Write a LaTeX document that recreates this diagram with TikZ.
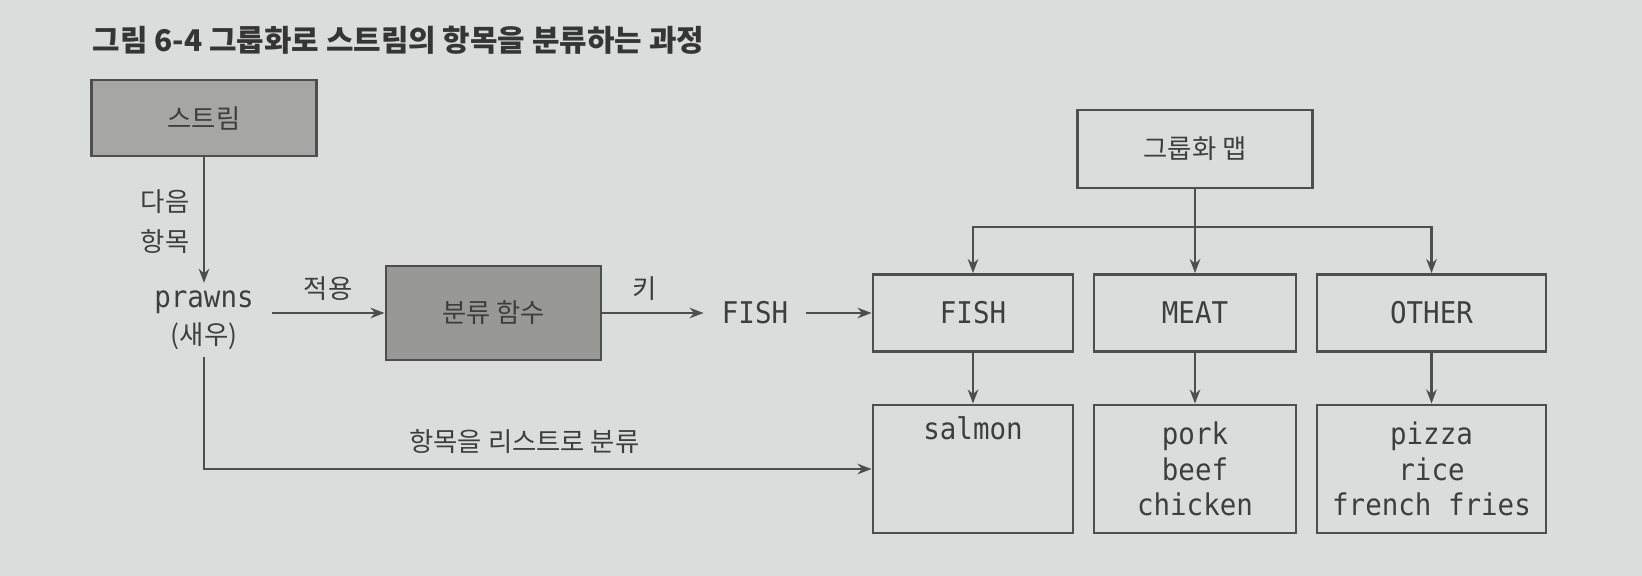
\documentclass[tikz,border=0pt]{standalone}
\usepackage{fontspec}
\newfontfamily\krfont{Noto Sans CJK KR}
\newfontfamily\codefont[FakeStretch=0.92]{DejaVu Sans Mono}
\usetikzlibrary{arrows.meta}
\definecolor{paper}{RGB}{219,221,220}
\definecolor{ink}{RGB}{62,62,62}
\definecolor{edge}{RGB}{78,78,78}
\definecolor{streamfill}{RGB}{166,166,164}
\definecolor{funcfill}{RGB}{152,152,151}

\begin{document}
\begin{tikzpicture}[x=0.01cm, y=-0.01cm, >={Stealth[length=4pt,width=3pt]},
  box/.style={draw=edge, line width=0.8pt, inner sep=0pt, text=ink},
  kr/.style={font=\krfont\fontsize{7.5}{11.4}\selectfont, text=ink, inner sep=0pt},
  code/.style={font=\codefont\fontsize{8.5}{10}\selectfont, text=ink, inner sep=5pt, align=center},
  link/.style={->, draw=edge, line width=0.8pt}]
\fill[paper] (0,0) rectangle (1642,576);
\useasboundingbox (0,0) rectangle (1642,576);

\node[anchor=west, inner sep=0pt, text=ink!85!black, font=\krfont\bfseries\fontsize{8.5}{10}\selectfont] (title) at (92,40) {그림 6-4 그룹화로 스트림의 항목을 분류하는 과정};

\node[box, kr, fill=streamfill, minimum width=2.25cm, minimum height=0.76cm] (stream) at (204,118) {스트림};
\node[kr, align=center] (nextlbl) at (165,222) {다음\\항목};
\node[code, inner ysep=2pt, font=\codefont\fontsize{8.5}{10.5}\selectfont] (prawns) at (204,320) {prawns\\{\krfont\fontsize{7.5}{10.5}\selectfont (새우)}};
\node[box, kr, fill=funcfill, minimum width=2.15cm, minimum height=0.94cm] (classify) at (493.5,313) {분류 함수};
\node[code] (fishkey) at (755,313) {FISH};

\node[box, kr, minimum width=2.35cm, minimum height=0.78cm] (groupmap) at (1195,149) {그룹화 맵};
\coordinate (fork) at (1195,227);
\node[box, code, inner sep=0pt, minimum width=2.0cm, minimum height=0.77cm] (fish) at (973,313) {FISH};
\node[box, code, inner sep=0pt, minimum width=2.02cm, minimum height=0.77cm] (meat) at (1195,313) {MEAT};
\node[box, code, inner sep=0pt, minimum width=2.29cm, minimum height=0.77cm] (other) at (1431.5,313) {OTHER};
\node[box, code, inner sep=0pt, minimum width=2.0cm, minimum height=1.28cm] (fishlist) at (973,469) {salmon\\\strut\\\strut};
\node[box, code, inner sep=0pt, minimum width=2.02cm, minimum height=1.28cm] (meatlist) at (1195,469) {pork\\beef\\chicken};
\node[box, code, inner sep=0pt, minimum width=2.29cm, minimum height=1.28cm] (otherlist) at (1431.5,469) {pizza\\rice\\french fries};

\draw[link] (stream) -- (prawns);
\draw[link] (prawns.east |- classify) -- (classify) node[kr, midway, above=3pt] {적용};
\draw[link] (classify) -- (fishkey) node[kr, pos=0.42, above=3pt] {키};
\draw[link] (fishkey) -- (fish);
\draw[link] (prawns.south) |- (fishlist) node[kr, pos=0.74, above=4pt] {항목을 리스트로 분류};
\draw[link] (groupmap) -- (meat);
\draw[link] (fork) -| (fish);
\draw[link] (fork) -| (other);
\draw[link] (fish) -- (fishlist);
\draw[link] (meat) -- (meatlist);
\draw[link] (other) -- (otherlist);
\end{tikzpicture}
\end{document}
